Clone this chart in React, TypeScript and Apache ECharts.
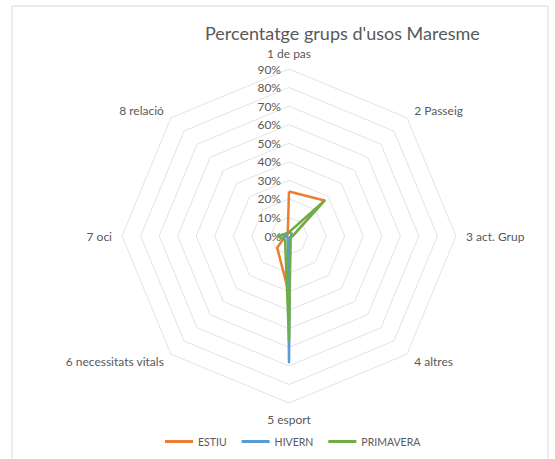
import React, { useEffect, useRef } from "react";
import * as echarts from "echarts";

const categories = ["1 de pas", "2 Passeig", "3 act. Grup", "4 altres", "5 esport", "6 necessitats vitals", "7 oci", "8 relació"];
const estiu = [24, 27, 2, 1, 31, 9, 2, 1];
const hivern = [2, 2, 1, 1, 68, 1, 3, 2];
const primavera = [2, 27, 2, 1, 56, 3, 6, 2];
const seriesNames = ["ESTIU", "HIVERN", "PRIMAVERA"];
const colors = ["#ED7D31", "#5B9BD5", "#70AD47"];
const axisMax = 90;
const axisSplits = 9;

// ECharts radar runs counter-clockwise; reorder so categories run clockwise.
const order = [0, 7, 6, 5, 4, 3, 2, 1];

export default function App() {
  const ref = useRef<HTMLDivElement>(null);
  useEffect(() => {
    document.body.style.margin = "0";
    const chart = echarts.init(ref.current!, null, { renderer: "svg" });
    const font = "Lato, 'Open Sans', sans-serif";
    const seriesData = [estiu, hivern, primavera];
    chart.setOption({
      animation: false,
      backgroundColor: "#ffffff",
      textStyle: { fontFamily: font },
      title: {
        text: "Percentatge grups d'usos Maresme",
        left: 200,
        top: 19,
        textStyle: { fontFamily: font, fontSize: 18, fontWeight: "normal", color: "#595959" },
      },
      graphic: [
        {
          type: "rect",
          shape: { x: 12, y: 6, width: 536, height: 480 },
          style: { fill: "none", stroke: "#d9d9d9", lineWidth: 1 },
          silent: true,
        },
      ],
      legend: {
        top: 431,
        left: 160,
        data: seriesNames,
        icon: "rect",
        itemWidth: 28,
        itemHeight: 3,
        itemGap: 15,
        textStyle: { fontFamily: font, fontSize: 10.5, color: "#595959" },
      },
      radar: {
        center: [289, 236],
        radius: 167,
        shape: "polygon",
        splitNumber: axisSplits,
        startAngle: 90,
        nameGap: 10,
        axisName: { color: "#595959", fontSize: 12, fontFamily: font },
        axisLine: { show: false },
        axisTick: { show: false },
        splitArea: { show: false },
        splitLine: { lineStyle: { color: "#e3e3e3", width: 1 } },
        axisLabel: { show: false },
        indicator: order.map((idx, i) => ({
          name: categories[idx],
          min: 0,
          max: axisMax,
          ...(i === 0
            ? {
                axisLabel: {
                  show: true,
                  formatter: "{value}%",
                  color: "#595959",
                  fontSize: 12,
                  fontFamily: font,
                  margin: 8,
                  showMinLabel: true,
                  showMaxLabel: true,
                },
              }
            : {}),
        })),
      },
      series: [
        {
          type: "radar",
          symbol: "none",
          data: seriesData.map((values, i) => ({
            name: seriesNames[i],
            value: order.map((idx) => values[idx]),
            lineStyle: { color: colors[i], width: 2.5 },
            itemStyle: { color: colors[i] },
          })),
        },
      ],
    });
    return () => chart.dispose();
  }, []);
  return <div ref={ref} style={{ width: 555, height: 459 }} />;
}
